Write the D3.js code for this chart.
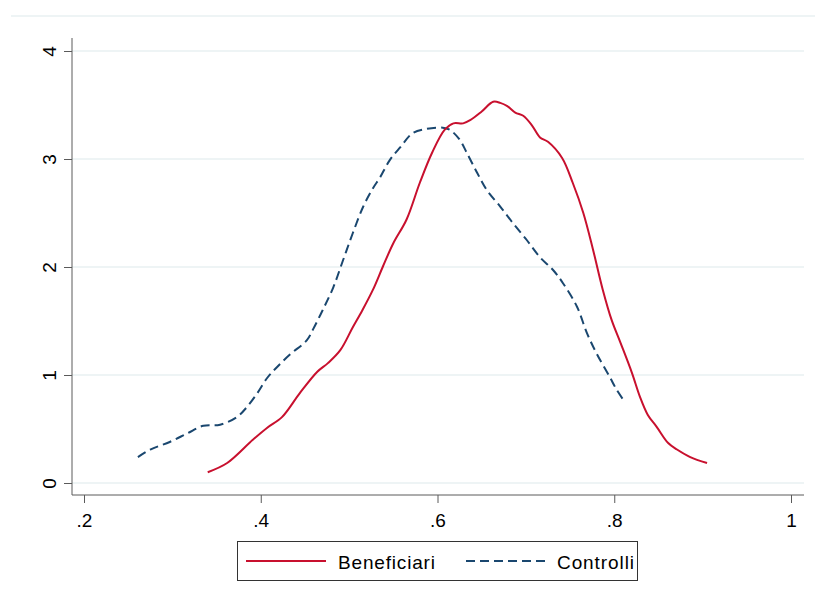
<!DOCTYPE html>
<html>
<head>
<meta charset="utf-8">
<script src="https://cdn.jsdelivr.net/npm/d3@7"></script>
<style>
  body { margin: 0; background: #fff; }
  text { font-family: "Liberation Sans", Arial, sans-serif; fill: #000; }
</style>
</head>
<body>
<div id="chart"></div>
<script>
// kernel density estimates
var benefX = [0.340, 0.362, 0.391, 0.407, 0.424, 0.444, 0.464, 0.476, 0.490, 0.504, 0.515, 0.527, 0.538, 0.550, 0.565, 0.580, 0.594, 0.608, 0.618, 0.629, 0.637, 0.650, 0.663, 0.671, 0.679, 0.688, 0.697, 0.707, 0.716, 0.725, 0.741, 0.753, 0.765, 0.776, 0.787, 0.797, 0.807, 0.820, 0.829, 0.838, 0.848, 0.861, 0.871, 0.886, 0.905];
var benefY = [0.10, 0.185, 0.40, 0.51, 0.61, 0.83, 1.03, 1.11, 1.23, 1.44, 1.60, 1.79, 2.00, 2.22, 2.44, 2.78, 3.06, 3.27, 3.33, 3.33, 3.36, 3.44, 3.53, 3.52, 3.49, 3.43, 3.40, 3.31, 3.20, 3.16, 3.01, 2.78, 2.50, 2.16, 1.79, 1.51, 1.30, 1.02, 0.80, 0.63, 0.52, 0.37, 0.31, 0.24, 0.185];

var contrX = [0.261, 0.275, 0.297, 0.317, 0.335, 0.354, 0.373, 0.384, 0.396, 0.407, 0.418, 0.433, 0.452, 0.459, 0.470, 0.482, 0.493, 0.504, 0.516, 0.527, 0.535, 0.546, 0.558, 0.572, 0.588, 0.606, 0.614, 0.625, 0.633, 0.645, 0.656, 0.671, 0.685, 0.701, 0.716, 0.731, 0.742, 0.758, 0.769, 0.780, 0.795, 0.803, 0.812];
var contrY = [0.24, 0.31, 0.38, 0.46, 0.53, 0.54, 0.61, 0.70, 0.83, 0.97, 1.07, 1.19, 1.32, 1.42, 1.60, 1.81, 2.06, 2.31, 2.56, 2.73, 2.83, 2.99, 3.11, 3.24, 3.28, 3.29, 3.27, 3.18, 3.06, 2.87, 2.71, 2.56, 2.41, 2.25, 2.09, 1.97, 1.85, 1.63, 1.39, 1.20, 0.98, 0.86, 0.75];

var xTicks = [0.2, 0.4, 0.6, 0.8, 1];
var xTickLabels = [".2", ".4", ".6", ".8", "1"];
var yTicks = [0, 1, 2, 3, 4];
var seriesNames = ["Beneficiari", "Controlli"];

var W = 815, H = 602;
var red = "#c8102e", navy = "#1a476f", grid = "#e9f0f2", axisCol = "#5a5a5a";
var fs = 19;

var svg = d3.select("#chart").append("svg")
    .attr("width", W)
    .attr("height", H);

// scales (pixel positions of the plot region)
var x = d3.scaleLinear().domain([0.2, 1]).range([84, 791]);
var y = d3.scaleLinear().domain([0, 4]).range([483, 51]);

// faint outer frame line at the top
svg.append("line")
    .attr("x1", 11).attr("x2", W)
    .attr("y1", 16).attr("y2", 16)
    .attr("stroke", grid).attr("stroke-width", 1.5);

// gridlines
svg.append("g").selectAll("line")
    .data(yTicks)
    .enter().append("line")
      .attr("x1", 72).attr("x2", 804)
      .attr("y1", function(d) { return y(d); })
      .attr("y2", function(d) { return y(d); })
      .attr("stroke", grid)
      .attr("stroke-width", 1.5);

// Y axis
var yAxis = svg.append("g")
    .attr("transform", "translate(72,0)")
    .call(d3.axisLeft(y).tickValues(yTicks).tickFormat(d3.format("d"))
      .tickSize(8).tickPadding(6).tickSizeOuter(0));
yAxis.select(".domain").attr("d", "M0,38V495").attr("stroke", axisCol);
yAxis.selectAll(".tick line").attr("stroke", axisCol);
yAxis.selectAll(".tick text")
    .attr("font-size", fs)
    .attr("x", null).attr("dy", null)
    .attr("transform", "translate(-16,0) rotate(-90)")
    .attr("text-anchor", "middle")
    .attr("y", 0);

// X axis
var xAxis = svg.append("g")
    .attr("transform", "translate(0,495)")
    .call(d3.axisBottom(x).tickValues(xTicks)
      .tickFormat(function(d, i) { return xTickLabels[i]; })
      .tickSize(8).tickSizeOuter(0));
xAxis.select(".domain").attr("d", "M72,0H804").attr("stroke", axisCol);
xAxis.selectAll(".tick line").attr("stroke", axisCol);
xAxis.selectAll(".tick text")
    .attr("font-size", fs)
    .attr("y", 32).attr("dy", null);

// density curves
var line = d3.line()
    .x(function(d) { return x(d[0]); })
    .y(function(d) { return y(d[1]); })
    .curve(d3.curveCatmullRom);

var benef = d3.zip(benefX, benefY);
var contr = d3.zip(contrX, contrY);

svg.append("path")
    .datum(contr)
    .attr("d", line)
    .attr("fill", "none")
    .attr("stroke", navy)
    .attr("stroke-width", 2)
    .attr("stroke-dasharray", "9,5");

svg.append("path")
    .datum(benef)
    .attr("d", line)
    .attr("fill", "none")
    .attr("stroke", red)
    .attr("stroke-width", 2);

// legend
var leg = svg.append("g");
leg.append("rect")
    .attr("x", 237.5).attr("y", 541.5)
    .attr("width", 400).attr("height", 39)
    .attr("fill", "#fff")
    .attr("stroke", "#333").attr("stroke-width", 1);
leg.append("line")
    .attr("x1", 246).attr("x2", 326).attr("y1", 561).attr("y2", 561)
    .attr("stroke", red).attr("stroke-width", 2);
leg.append("text")
    .attr("x", 338).attr("y", 569)
    .attr("font-size", fs)
    .attr("textLength", 97)
    .text(seriesNames[0]);
leg.append("line")
    .attr("x1", 466).attr("x2", 545).attr("y1", 561).attr("y2", 561)
    .attr("stroke", navy).attr("stroke-width", 2)
    .attr("stroke-dasharray", "9,5");
leg.append("text")
    .attr("x", 557).attr("y", 569)
    .attr("font-size", fs)
    .attr("textLength", 77)
    .text(seriesNames[1]);
</script>
</body>
</html>
